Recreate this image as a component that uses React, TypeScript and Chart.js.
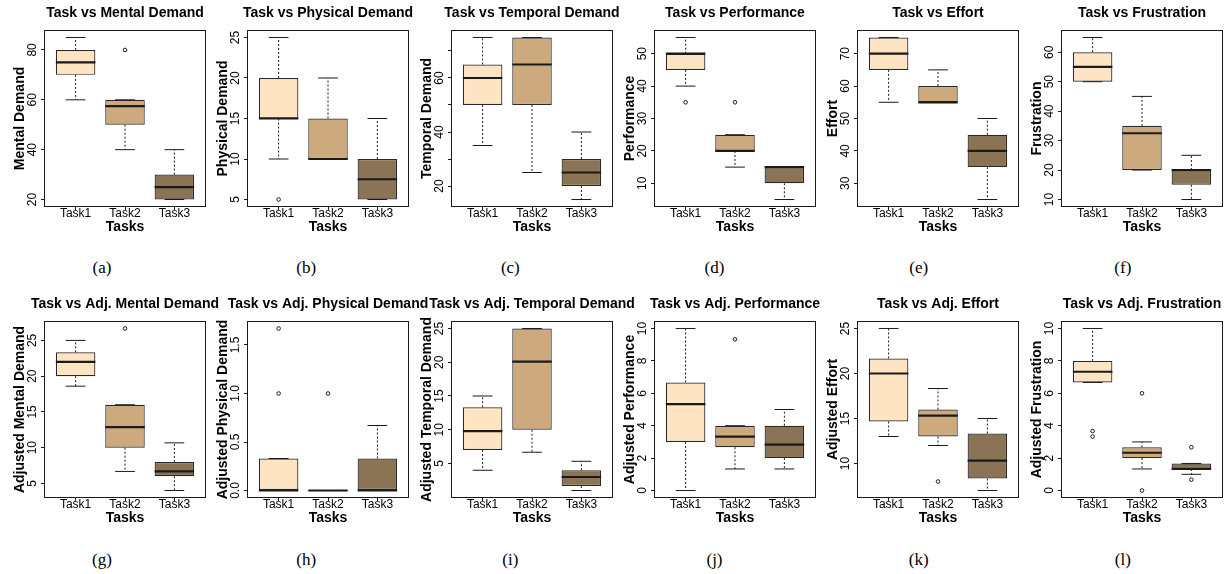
import React, { useEffect, useRef } from 'react';
import { Chart, registerables } from 'chart.js';

Chart.register(...registerables);

const SANS = "'Liberation Sans', Arial, Helvetica, sans-serif";
const SERIF = "'Liberation Serif', 'Times New Roman', serif";
Chart.defaults.font.family = SANS;
Chart.defaults.color = '#000';

// ---------- data ----------
const taskLabels = ['Task1', 'Task2', 'Task3'];
const taskColors = ['#FFE4C4', '#CDAA7D', '#8B7355'];
const taskPositions = [1, 2, 3];

// five-number summaries per task: [min, q1, median, q3, max]
const mentalStats = [[60, 70, 75, 80, 85], [40, 50, 57.5, 60, 60], [20, 20, 25, 30, 40]];
const mentalOutliers = [[], [80], []];
const mentalTicks = [20, 40, 60, 80];
const mentalTickLabels = ['20', '40', '60', '80'];

const physicalStats = [[10, 15, 15, 20, 25], [10, 10, 10, 15, 20], [5, 5, 7.5, 10, 15]];
const physicalOutliers = [[5], [], []];
const physicalTicks = [5, 10, 15, 20, 25];
const physicalTickLabels = ['5', '10', '15', '20', '25'];

const temporalStats = [[35, 50, 60, 65, 75], [25, 50, 65, 75, 75], [15, 20, 25, 30, 40]];
const temporalOutliers = [[], [], []];
const temporalTicks = [20, 30, 40, 50, 60, 70];
const temporalTickLabels = ['20', '', '40', '', '60', ''];

const performanceStats = [[40, 45, 50, 50, 55], [15, 20, 20, 25, 25], [5, 10, 15, 15, 15]];
const performanceOutliers = [[35], [35], []];
const performanceTicks = [10, 20, 30, 40, 50];
const performanceTickLabels = ['10', '20', '30', '40', '50'];

const effortStats = [[55, 65, 70, 75, 75], [55, 55, 55, 60, 65], [25, 35, 40, 45, 50]];
const effortOutliers = [[], [], []];
const effortTicks = [30, 40, 50, 60, 70];
const effortTickLabels = ['30', '40', '50', '60', '70'];

const frustrationStats = [[50, 50, 55, 60, 65], [20, 20, 32.5, 35, 45], [10, 15, 20, 20, 25]];
const frustrationOutliers = [[], [], []];
const frustrationTicks = [10, 20, 30, 40, 50, 60];
const frustrationTickLabels = ['10', '20', '30', '40', '50', '60'];

const adjMentalStats = [[18.6, 20, 22, 23.33, 25], [6.67, 10, 12.86, 16, 16], [4, 6, 6.67, 8, 10.67]];
const adjMentalOutliers = [[], [26.67], []];
const adjMentalTicks = [5, 10, 15, 20, 25];
const adjMentalTickLabels = ['5', '10', '15', '20', '25'];

const adjPhysicalStats = [[0, 0, 0, 0.33, 0.33], [0, 0, 0, 0, 0], [0, 0, 0, 0.33, 0.67]];
const adjPhysicalOutliers = [[1, 1.67], [1], []];
const adjPhysicalTicks = [0, 0.5, 1, 1.5];
const adjPhysicalTickLabels = ['0.0', '0.5', '1.0', '1.5'];

const adjTemporalStats = [[4, 7, 9.8, 13.33, 15], [6.67, 10, 20.1, 25, 25], [1, 1.67, 3, 4, 5.33]];
const adjTemporalOutliers = [[], [], []];
const adjTemporalTicks = [5, 10, 15, 20, 25];
const adjTemporalTickLabels = ['5', '10', '15', '20', '25'];

const adjPerformanceStats = [[0, 3, 5.33, 6.67, 10], [1.33, 2.67, 3.33, 4, 4], [1.33, 2, 2.83, 4, 5]];
const adjPerformanceOutliers = [[], [9.33], []];
const adjPerformanceTicks = [0, 2, 4, 6, 8, 10];
const adjPerformanceTickLabels = ['0', '2', '4', '6', '8', '10'];

const adjEffortStats = [[13, 14.67, 20, 21.67, 25], [12, 13, 15.33, 16, 18.33], [7, 8.33, 10.33, 13.33, 15]];
const adjEffortOutliers = [[], [8], []];
const adjEffortTicks = [10, 15, 20, 25];
const adjEffortTickLabels = ['10', '15', '20', '25'];

const adjFrustrationStats = [[6.67, 6.67, 7.33, 8, 10], [1.33, 2, 2.33, 2.67, 3], [1, 1.33, 1.33, 1.67, 1.67]];
const adjFrustrationOutliers = [[3.33, 3.67], [0, 6], [0.67, 2.67]];
const adjFrustrationTicks = [0, 2, 4, 6, 8, 10];
const adjFrustrationTickLabels = ['0', '2', '4', '6', '8', '10'];

const panels = [
  { title: 'Task vs Mental Demand', yLabel: 'Mental Demand', stats: mentalStats, outliers: mentalOutliers, ticks: mentalTicks, tickLabels: mentalTickLabels, caption: '(a)' },
  { title: 'Task vs Physical Demand', yLabel: 'Physical Demand', stats: physicalStats, outliers: physicalOutliers, ticks: physicalTicks, tickLabels: physicalTickLabels, caption: '(b)' },
  { title: 'Task vs Temporal Demand', yLabel: 'Temporal Demand', stats: temporalStats, outliers: temporalOutliers, ticks: temporalTicks, tickLabels: temporalTickLabels, caption: '(c)' },
  { title: 'Task vs Performance', yLabel: 'Performance', stats: performanceStats, outliers: performanceOutliers, ticks: performanceTicks, tickLabels: performanceTickLabels, caption: '(d)' },
  { title: 'Task vs Effort', yLabel: 'Effort', stats: effortStats, outliers: effortOutliers, ticks: effortTicks, tickLabels: effortTickLabels, caption: '(e)' },
  { title: 'Task vs Frustration', yLabel: 'Frustration', stats: frustrationStats, outliers: frustrationOutliers, ticks: frustrationTicks, tickLabels: frustrationTickLabels, caption: '(f)' },
  { title: 'Task vs Adj. Mental Demand', yLabel: 'Adjusted Mental Demand', stats: adjMentalStats, outliers: adjMentalOutliers, ticks: adjMentalTicks, tickLabels: adjMentalTickLabels, caption: '(g)' },
  { title: 'Task vs Adj. Physical Demand', yLabel: 'Adjusted Physical Demand', stats: adjPhysicalStats, outliers: adjPhysicalOutliers, ticks: adjPhysicalTicks, tickLabels: adjPhysicalTickLabels, caption: '(h)' },
  { title: 'Task vs Adj. Temporal Demand', yLabel: 'Adjusted Temporal Demand', stats: adjTemporalStats, outliers: adjTemporalOutliers, ticks: adjTemporalTicks, tickLabels: adjTemporalTickLabels, caption: '(i)' },
  { title: 'Task vs Adj. Performance', yLabel: 'Adjusted Performance', stats: adjPerformanceStats, outliers: adjPerformanceOutliers, ticks: adjPerformanceTicks, tickLabels: adjPerformanceTickLabels, caption: '(j)' },
  { title: 'Task vs Adj. Effort', yLabel: 'Adjusted Effort', stats: adjEffortStats, outliers: adjEffortOutliers, ticks: adjEffortTicks, tickLabels: adjEffortTickLabels, caption: '(k)' },
  { title: 'Task vs Adj. Frustration', yLabel: 'Adjusted Frustration', stats: adjFrustrationStats, outliers: adjFrustrationOutliers, ticks: adjFrustrationTicks, tickLabels: adjFrustrationTickLabels, caption: '(l)' },
];

// ---------- layout ----------
const PLOT_LEFTS = [45, 248, 452, 655, 858, 1062];
const ROW_TOPS = [0, 291];
const CAPTION_YS = [268, 560];
const PLOT_W = 160;
const MARGIN = 65;
const CANVAS_W = PLOT_W + 2 * MARGIN;
const CANVAS_H = 236;
const X_MIN = 0.38;
const X_MAX = 3.62;
const INK = '#1a1a1a';

const framePlugin = {
  id: 'frame',
  afterDatasetsDraw(chart: any) {
    const { ctx, chartArea: a } = chart;
    ctx.save();
    ctx.strokeStyle = INK;
    ctx.lineWidth = 1;
    ctx.strokeRect(a.left - 0.5, a.top - 0.5, a.right - a.left + 1, a.bottom - a.top + 1);
    ctx.restore();
  },
};

function rRange(stats: number[][], outliers: number[][]) {
  const all = stats.flat().concat(outliers.flat());
  const lo = Math.min(...all);
  const hi = Math.max(...all);
  const pad = (hi - lo) * 0.04;
  return [lo - pad, hi + pad];
}

function measureWidest(labels: string[]) {
  const c = document.createElement('canvas').getContext('2d') as CanvasRenderingContext2D;
  c.font = `12px ${SANS}`;
  return Math.max(0, ...labels.map((l) => c.measureText(l).width));
}

function BoxPanel({ panel, left, top }: any) {
  const ref = useRef<HTMLCanvasElement | null>(null);
  useEffect(() => {
    if (!ref.current) return;
    const { stats, outliers, ticks, tickLabels } = panel;
    const boxes = stats.map((s: number[], i: number) => ({ x: taskPositions[i], y: [s[1], s[3]] }));
    const medians: any[] = [];
    const caps: any[] = [];
    const whiskers: any[] = [];
    const outs: any[] = [];
    stats.forEach((s: number[], i: number) => {
      const x = taskPositions[i];
      medians.push({ x: x - 0.4, y: s[2] }, { x: x + 0.4, y: s[2] }, { x: x + 0.4, y: null });
      caps.push(
        { x: x - 0.2, y: s[4] }, { x: x + 0.2, y: s[4] }, { x: x + 0.2, y: null },
        { x: x - 0.2, y: s[0] }, { x: x + 0.2, y: s[0] }, { x: x + 0.2, y: null }
      );
      whiskers.push(
        { x, y: s[3] }, { x, y: s[4] }, { x, y: null },
        { x, y: s[1] }, { x, y: s[0] }, { x, y: null }
      );
      outliers[i].forEach((v: number) => outs.push({ x, y: v }));
    });
    const [yMin, yMax] = rRange(stats, outliers);
    const widest = measureWidest(tickLabels);
    const yTickPad = 12 - 4 - widest / 2;

    const chart = new Chart(ref.current, {
      type: 'bar',
      data: {
        datasets: [
          {
            type: 'scatter', data: outs, order: 1, showLine: false,
            pointRadius: 1.8, pointBorderWidth: 1, pointBackgroundColor: 'rgba(0,0,0,0)', pointBorderColor: INK,
          } as any,
          { type: 'line', data: medians, order: 2, borderColor: INK, borderWidth: 2.2, pointRadius: 0, fill: false, spanGaps: false } as any,
          { type: 'line', data: caps, order: 3, borderColor: INK, borderWidth: 1, pointRadius: 0, fill: false, spanGaps: false } as any,
          { type: 'line', data: whiskers, order: 4, borderColor: INK, borderWidth: 1, borderDash: [2, 2], pointRadius: 0, fill: false, spanGaps: false } as any,
          {
            type: 'bar', data: boxes, order: 5, backgroundColor: taskColors, borderColor: '#2a2a2a', borderWidth: 1.2,
            borderSkipped: false, categoryPercentage: 0.8, barPercentage: 1, grouped: false,
          } as any,
        ],
      },
      options: {
        animation: false,
        responsive: false,
        events: [],
        layout: { padding: 0 },
        plugins: {
          legend: { display: false },
          tooltip: { enabled: false },
          title: {
            display: true, text: panel.title, color: '#000', fullSize: true,
            font: { family: SANS, size: 14, weight: 'bold', lineHeight: 1.2 },
            padding: { top: 4.9, bottom: 9.3 },
          },
        },
        scales: {
          x: {
            type: 'linear', min: X_MIN, max: X_MAX, offset: false,
            afterBuildTicks: (s: any) => { s.ticks = taskPositions.map((v) => ({ value: v })); },
            afterFit: (s: any) => { s.height = 30; },
            ticks: {
              autoSkip: false, maxRotation: 0, minRotation: 0, padding: -4, color: '#000',
              font: { family: SANS, size: 12 },
              callback: (v: any) => taskLabels[taskPositions.indexOf(Number(v))] ?? '',
            },
            grid: { display: true, drawOnChartArea: false, drawTicks: true, tickLength: 4, tickColor: INK, offset: false },
            border: { display: false },
            title: {
              display: true, text: 'Tasks', color: '#000',
              font: { family: SANS, size: 14, weight: 'bold', lineHeight: 1.2 },
              padding: { top: 0, bottom: 0 },
            },
          },
          y: {
            type: 'linear', position: 'left', min: yMin, max: yMax,
            afterBuildTicks: (s: any) => { s.ticks = ticks.map((v: number) => ({ value: v })); },
            afterFit: (s: any) => { s.width = MARGIN; },
            ticks: {
              autoSkip: false, minRotation: 90, maxRotation: 90, crossAlign: 'center', padding: yTickPad, color: '#000',
              font: { family: SANS, size: 12 },
              callback: (_v: any, i: number) => tickLabels[i] ?? '',
            },
            grid: { display: true, drawOnChartArea: false, drawTicks: true, tickLength: 4, tickColor: INK },
            border: { display: false },
            title: {
              display: true, text: panel.yLabel, color: '#000',
              font: { family: SANS, size: 14, weight: 'bold', lineHeight: 1.2 },
              padding: { top: 32.1, bottom: 0 },
            },
          },
          // empty right-hand axis that only reserves space so the plot is centred in the canvas
          yRight: {
            type: 'linear', position: 'right', display: true,
            afterFit: (s: any) => { s.width = MARGIN; },
            ticks: { display: false },
            grid: { display: false, drawTicks: false },
            border: { display: false },
            title: { display: false },
          },
        },
      } as any,
      plugins: [framePlugin],
    });
    return () => chart.destroy();
  }, [panel]);

  return (
    <canvas
      ref={ref}
      width={CANVAS_W}
      height={CANVAS_H}
      style={{ position: 'absolute', left: left - MARGIN, top, width: CANVAS_W, height: CANVAS_H }}
    />
  );
}

export default function App() {
  return (
    <div
      style={{
        position: 'absolute', left: 0, top: 0, width: 1225, height: 574,
        overflow: 'hidden', background: '#fff',
      }}
    >
      {panels.map((p, idx) => {
        const row = Math.floor(idx / 6);
        const col = idx % 6;
        return <BoxPanel key={p.title} panel={p} left={PLOT_LEFTS[col]} top={ROW_TOPS[row]} />;
      })}
      {panels.map((p, idx) => {
        const row = Math.floor(idx / 6);
        const col = idx % 6;
        const cx = 102 + col * 204.17;
        return (
          <div
            key={'cap' + idx}
            style={{
              position: 'absolute', left: cx - 40, width: 80, top: CAPTION_YS[row] - 10,
              lineHeight: '20px', height: 20, textAlign: 'center',
              fontFamily: SERIF, fontSize: 17, color: '#000',
            }}
          >
            {p.caption}
          </div>
        );
      })}
    </div>
  );
}
